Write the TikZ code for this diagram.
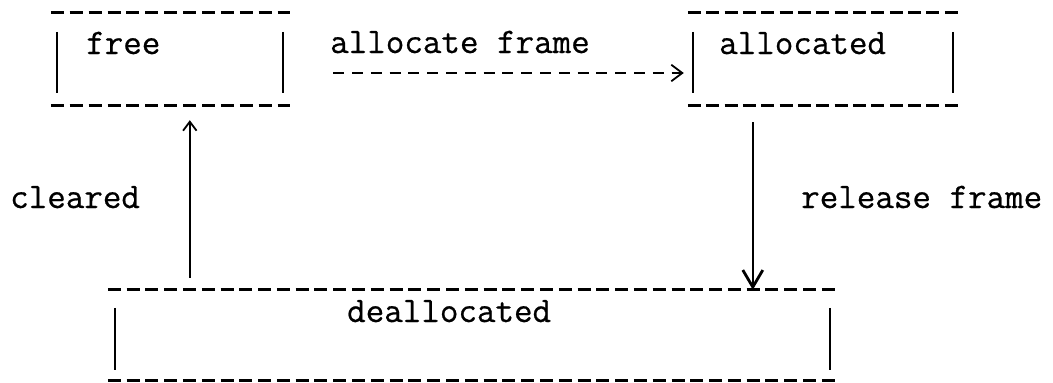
\documentclass[tikz,border=0pt]{standalone}
\usepackage{fontspec}
\newfontfamily\asciifont[FakeBold=0.6]{Latin Modern Mono}
\usetikzlibrary{arrows.meta}

\begin{document}
\begin{tikzpicture}[x=1pt,y=-1pt,
  lbl/.style={font=\asciifont\fontsize{36}{42}\selectfont, inner sep=0pt, anchor=base west},
  stateframe/.style={rectangle, inner sep=0pt},
  rule/.style={line width=3pt, dash pattern=on 13pt off #1},
  side/.style={line width=1.8pt},
  trans/.style={line width=1.6pt},
  ascii head/.style={-{Straight Barb[length=#1,width=1.5*#1,line width=1.8pt]}}
]
\useasboundingbox (0,0) rectangle (1053,383);

% state frames (outline drawn below as dashed rules and solid sides)
\node[stateframe, minimum width=239pt, minimum height=92pt] (free) at (170.5,59) {};
\node[stateframe, minimum width=270pt, minimum height=92pt] (alloc) at (823,59) {};
\node[stateframe, minimum width=727pt, minimum height=90pt] (dealloc) at (471.5,335) {};

% free
\draw[rule=5.9pt] (free.north west) -- (free.north east);
\draw[rule=5.9pt] (free.south west) -- (free.south east);
\draw[side] ([xshift=6pt,yshift=-19pt]free.north west) -- ([xshift=6pt,yshift=12pt]free.south west);
\draw[side] ([xshift=-7pt,yshift=-19pt]free.north east) -- ([xshift=-7pt,yshift=12pt]free.south east);
\node[lbl] (freetxt) at (86,54) {free};

% allocated
\draw[rule=5.36pt] (alloc.north west) -- (alloc.north east);
\draw[rule=5.36pt] (alloc.south west) -- (alloc.south east);
\draw[side] ([xshift=5pt,yshift=-19pt]alloc.north west) -- ([xshift=5pt,yshift=12pt]alloc.south west);
\draw[side] ([xshift=-5pt,yshift=-19pt]alloc.north east) -- ([xshift=-5pt,yshift=12pt]alloc.south east);
\node[lbl] (alloctxt) at (719,54) {allocated};

% deallocated
\draw[rule=5.79pt] (dealloc.north west) -- (dealloc.north east);
\draw[rule=5.79pt] (dealloc.south west) -- (dealloc.south east);
\draw[side] ([xshift=7pt,yshift=-18pt]dealloc.north west) -- ([xshift=7pt,yshift=10pt]dealloc.south west);
\draw[side] ([xshift=-5pt,yshift=-18pt]dealloc.north east) -- ([xshift=-5pt,yshift=10pt]dealloc.south east);
\node[lbl] (dealloctxt) at (347,322) {deallocated};

% free -> allocated
\draw[trans, dash pattern=on 11pt off 7.8pt, ascii head=11pt]
  ([xshift=43pt,yshift=-14pt]free.east) -- ([xshift=-4pt,yshift=-14pt]alloc.west);
\node[lbl] (alloclbl) at (330,53) {allocate frame};

% allocated -> deallocated
\draw[trans, -{Straight Barb[length=17pt,width=20pt,line width=2.8pt]}]
  ([xshift=65pt,yshift=-17pt]alloc.south west) -- ([xshift=645pt]dealloc.north west);
\node[lbl] (rellbl) at (801,208) {release frame};

% deallocated -> free
\draw[trans, ascii head=9pt]
  ([xshift=82pt,yshift=12pt]dealloc.north west) -- ([xshift=139pt,yshift=-15pt]free.south west);
\node[lbl] (clrlbl) at (10,208) {cleared};
\end{tikzpicture}
\end{document}
